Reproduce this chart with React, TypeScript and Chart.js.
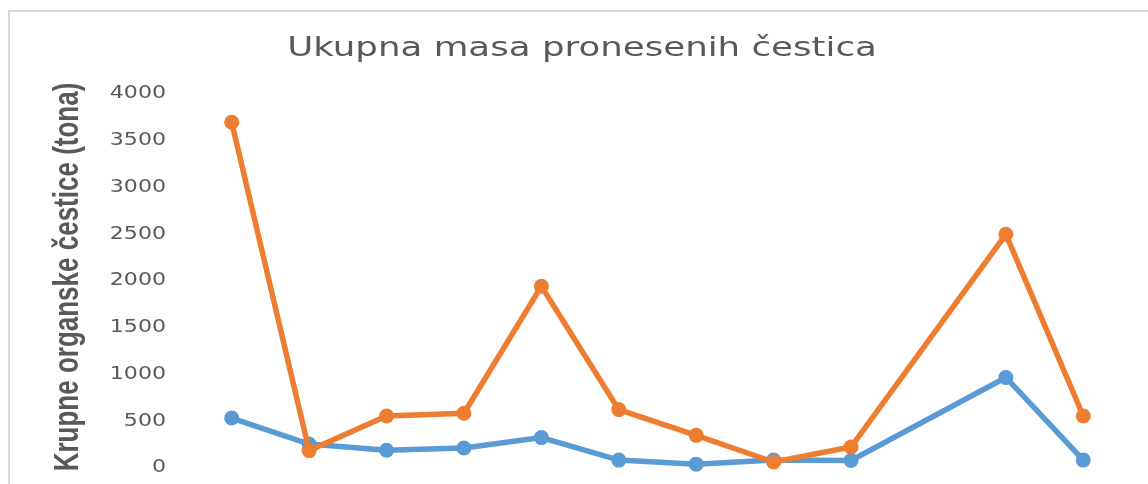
import React, { useEffect, useRef } from "react";
import { Chart, registerables } from "chart.js";

Chart.register(...registerables);

const categories = ["1", "2", "3", "4", "5", "6", "7", "8", "9", "10", "11", "12"];
const seriesBlue: (number | null)[] = [513, 235, 168, 193, 304, 63, 20, 64, 60, null, 947, 63];
const seriesOrange: (number | null)[] = [3676, 165, 535, 564, 1922, 603, 328, 43, 203, null, 2478, 535];
const chartTitle = "Ukupna masa pronesenih čestica";
const yAxisTitle = "Krupne organske čestice (tona)";
const yMin = 0;
const yMax = 4000;
const yStep = 500;

const TEXT_COLOR = "#595959";
const STRETCH = 1.37;

const textPlugin = {
  id: "stretchedText",
  afterDraw(chart: any) {
    const ctx: CanvasRenderingContext2D = chart.ctx;
    const area = chart.chartArea;
    const yScale = chart.scales.y;
    ctx.save();
    ctx.fillStyle = TEXT_COLOR;

    // title
    ctx.save();
    ctx.font = "normal 26px 'DejaVu Sans'";
    ctx.textAlign = "center";
    ctx.textBaseline = "middle";
    ctx.translate(582, 49);
    ctx.scale(STRETCH, 1);
    ctx.fillText(chartTitle, 0, 0);
    ctx.restore();

    // y axis title
    ctx.save();
    ctx.font = "bold 26px 'Liberation Sans'";
    ctx.textAlign = "center";
    ctx.textBaseline = "middle";
    ctx.translate(68, (area.top + area.bottom) / 2 - 2);
    ctx.rotate(-Math.PI / 2);
    ctx.scale(1, 1.35);
    ctx.fillText(yAxisTitle, 0, 0);
    ctx.restore();

    // y tick labels
    ctx.font = "normal 17px 'DejaVu Sans'";
    ctx.textAlign = "right";
    ctx.textBaseline = "middle";
    for (const t of yScale.ticks) {
      const py = yScale.getPixelForValue(t.value);
      ctx.save();
      ctx.translate(166, py + 2);
      ctx.scale(1.3, 1);
      ctx.fillText(String(t.value), 0, 0);
      ctx.restore();
    }
    ctx.restore();
  },
};

export default function App() {
  const canvasRef = useRef<HTMLCanvasElement | null>(null);

  useEffect(() => {
    const canvas = canvasRef.current;
    if (!canvas) return;
    const chart = new Chart(canvas, {
      type: "line",
      data: {
        labels: categories,
        datasets: [
          {
            label: "Serija 1",
            data: seriesBlue,
            borderColor: "#5B9BD5",
            backgroundColor: "#5B9BD5",
            borderWidth: 5.5,
            pointRadius: 7.5,
            pointHoverRadius: 7.5,
            pointBorderWidth: 0,
            spanGaps: true,
            clip: false,
            tension: 0,
            order: 1,
          },
          {
            label: "Serija 2",
            data: seriesOrange,
            borderColor: "#ED7D31",
            backgroundColor: "#ED7D31",
            borderWidth: 5.5,
            pointRadius: 7.5,
            pointHoverRadius: 7.5,
            pointBorderWidth: 0,
            spanGaps: true,
            clip: false,
            tension: 0,
            order: 0,
          },
        ],
      },
      options: {
        animation: false,
        responsive: false,
        maintainAspectRatio: false,
        layout: { autoPadding: false, padding: { left: 0, right: 26, top: 92, bottom: 18 } },
        plugins: {
          legend: { display: false },
          tooltip: { enabled: false },
          title: { display: false },
        },
        scales: {
          x: {
            display: false,
            offset: true,
            grid: { display: false },
          },
          y: {
            min: yMin,
            max: yMax,
            afterFit: (scale: any) => {
              scale.width = 193;
              scale.paddingTop = 0;
              scale.paddingBottom = 0;
            },
            ticks: {
              stepSize: yStep,
              display: false,
            },
            grid: { display: false, drawTicks: false },
            border: { display: false },
            title: { display: false },
          },
        },
      },
      plugins: [textPlugin],
    });
    return () => chart.destroy();
  }, []);

  return (
    <div
      style={{
        position: "fixed",
        left: 0,
        top: 0,
        width: 1148,
        height: 484,
        overflow: "hidden",
        background: "#ffffff",
      }}
    >
      <div
        style={{
          position: "absolute",
          left: 8,
          top: 10,
          width: 1300,
          height: 700,
          borderLeft: "2px solid #d9d9d9",
          borderTop: "2px solid #d9d9d9",
          boxSizing: "border-box",
        }}
      />
      <canvas
        ref={canvasRef}
        width={1148}
        height={484}
        style={{ position: "absolute", left: 0, top: 0, width: 1148, height: 484 }}
      />
    </div>
  );
}
